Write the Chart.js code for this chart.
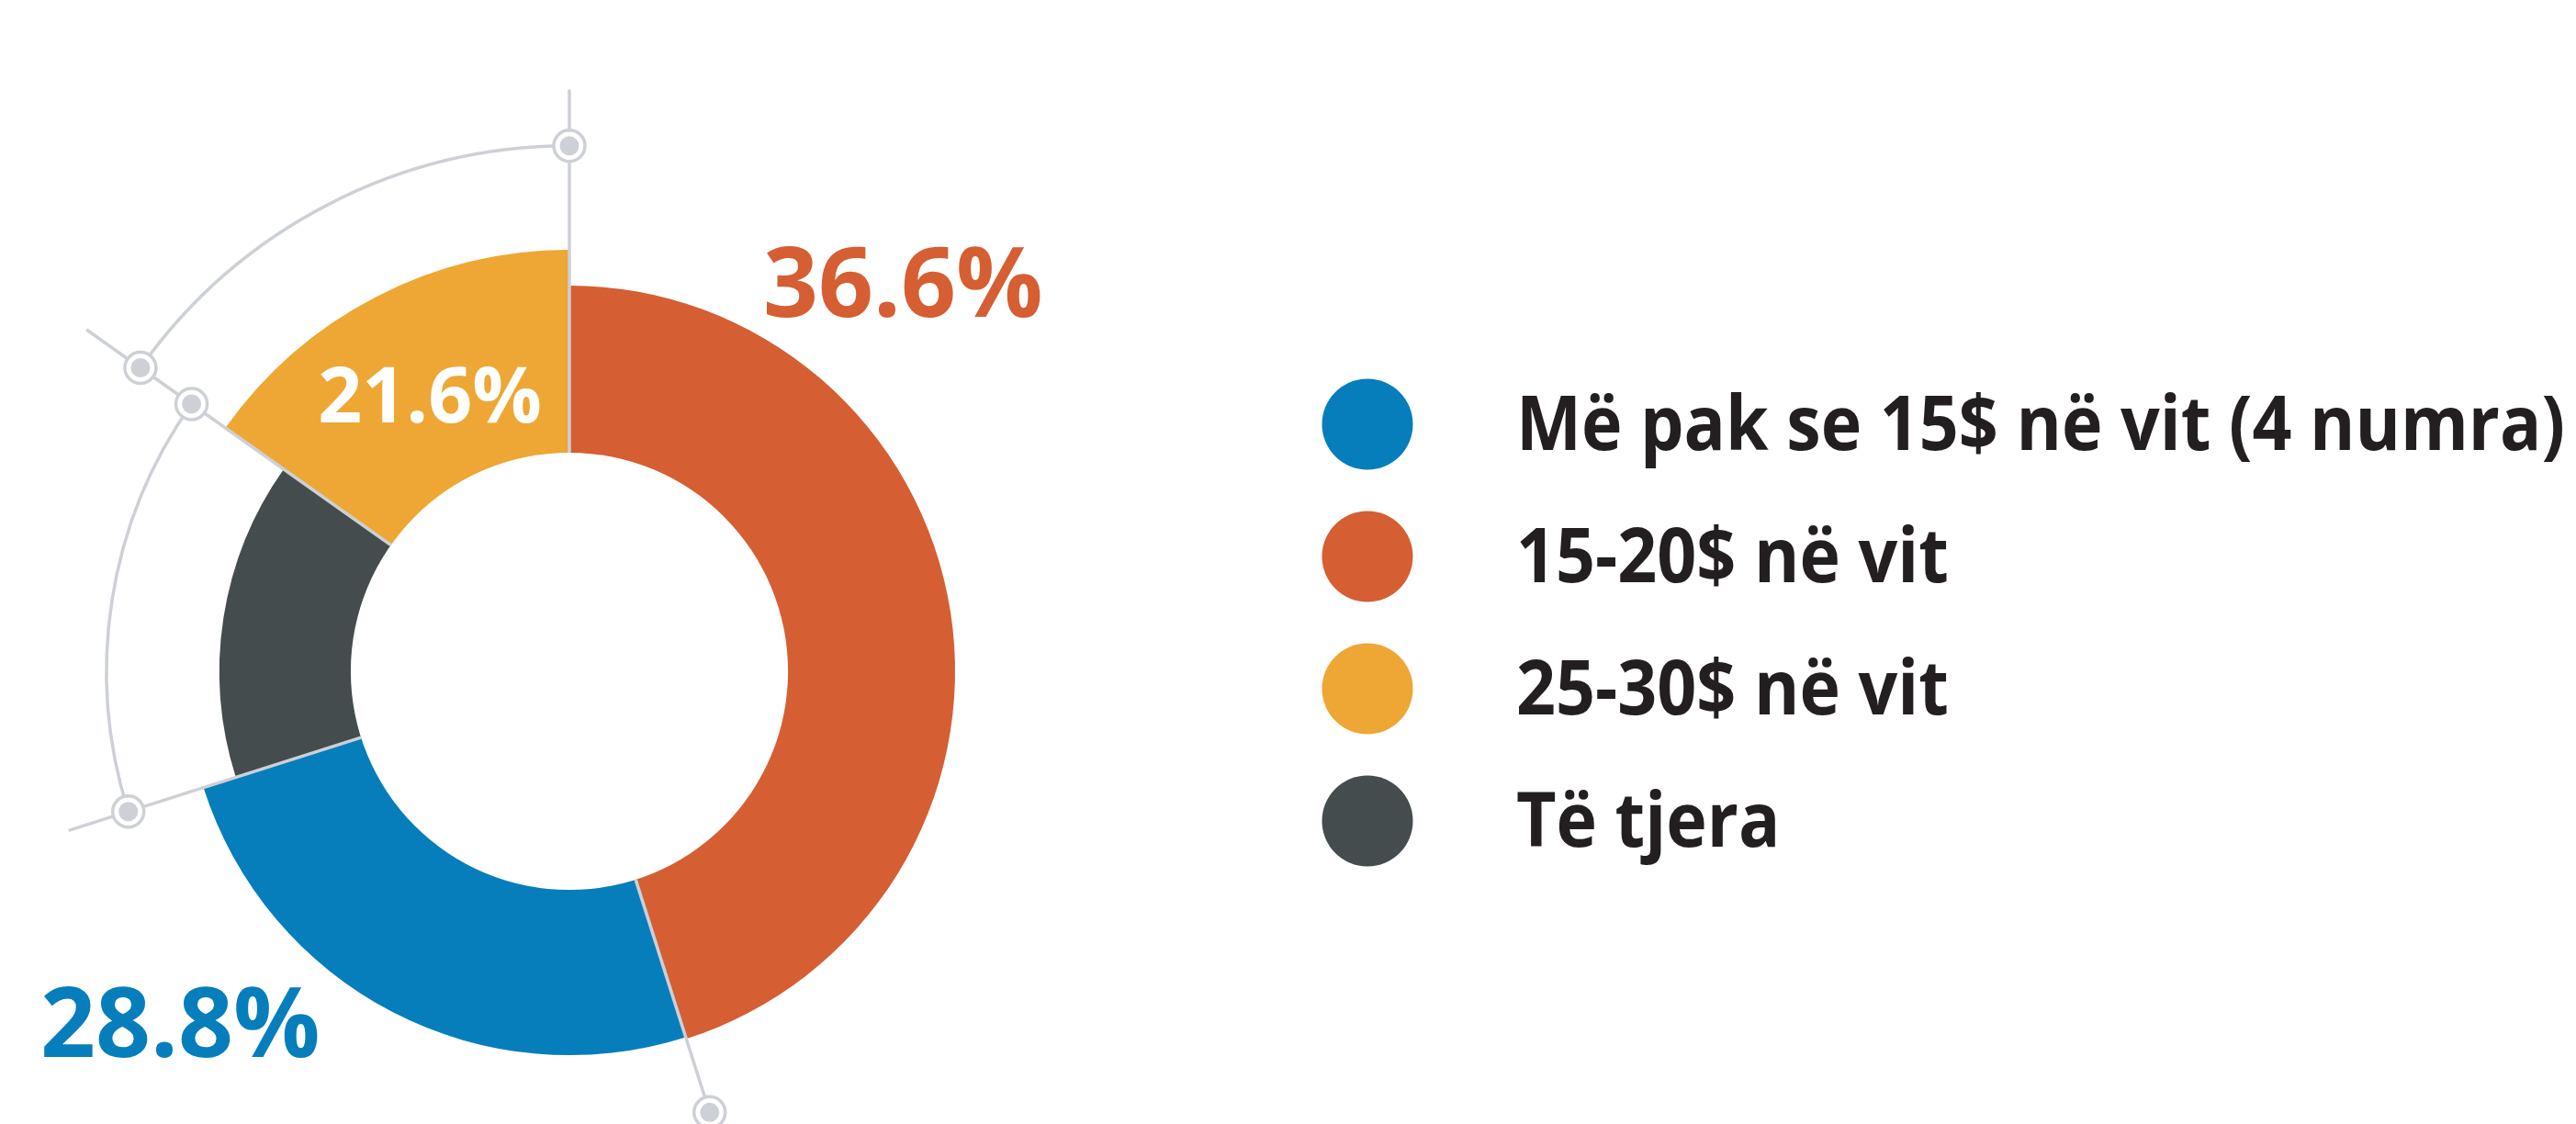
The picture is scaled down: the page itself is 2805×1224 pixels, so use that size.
<!DOCTYPE html>
<html>
<head>
<meta charset="utf-8">
<script src="https://cdn.jsdelivr.net/npm/chart.js@4.4.1/dist/chart.umd.min.js"></script>
<style>
  html, body { margin: 0; padding: 0; background: #fff; }
</style>
</head>
<body>
<canvas id="chart" width="2805" height="1224"></canvas>
<script>
// segments in ring order, clockwise from the top
const categories = ['15-20$ në vit', 'Më pak se 15$ në vit (4 numra)', 'Të tjera', '25-30$ në vit'];
// share of the ring each segment takes as drawn (%)
const sliceShares = [45.1, 25.0, 14.7, 15.2];
// how far each segment reaches out (radial scale units, 0-100)
const ringReach = [87.5, 87.1, 79.4, 95.6];
// the printed percentages
const printedShares = ['36.6%', '28.8%', '', '21.6%'];
// legend lists them in another order
const legendOrder = [1, 0, 3, 2];
const colors = ['#D65E33', '#067EBC', '#454C4E', '#EEA734'];

const LINE = '#CDD0D6';
const INK = '#231F20';

// hole, spokes, guide arcs and markers, in radial scale units
const HOLE = 49.6;
const INNER_GUIDE = 105;
const OUTER_GUIDE = 119.2;
const SPOKE_END = [132, 118, 119.2, 134.2];

const ringDecor = {
  id: 'ringDecor',
  afterDatasetsDraw(chart) {
    const ctx = chart.ctx;
    const r = chart.scales.r;
    const cx = r.xCenter;
    const cy = r.yCenter;
    const px = (v) => r.getDistanceFromCenterForValue(v);
    const edge = chart.getDatasetMeta(0).data.map((a) => a.startAngle);

    ctx.save();
    // hole
    ctx.fillStyle = '#fff';
    ctx.beginPath();
    ctx.arc(cx, cy, px(HOLE), 0, Math.PI * 2);
    ctx.fill();

    ctx.strokeStyle = LINE;
    ctx.lineWidth = 3.5;
    // spokes between the segments
    edge.forEach((ang, i) => {
      ctx.beginPath();
      ctx.moveTo(cx + px(HOLE) * Math.cos(ang), cy + px(HOLE) * Math.sin(ang));
      ctx.lineTo(cx + px(SPOKE_END[i]) * Math.cos(ang), cy + px(SPOKE_END[i]) * Math.sin(ang));
      ctx.stroke();
    });
    // guide arcs
    ctx.beginPath();
    ctx.arc(cx, cy, px(OUTER_GUIDE), edge[3], edge[0] + Math.PI * 2);
    ctx.stroke();
    ctx.beginPath();
    ctx.arc(cx, cy, px(INNER_GUIDE), edge[2], edge[3]);
    ctx.stroke();

    const marker = (ang, v) => {
      const x = cx + px(v) * Math.cos(ang);
      const y = cy + px(v) * Math.sin(ang);
      ctx.fillStyle = '#fff';
      ctx.beginPath();
      ctx.arc(x, y, 18, 0, Math.PI * 2);
      ctx.fill();
      ctx.beginPath();
      ctx.arc(x, y, 17, 0, Math.PI * 2);
      ctx.stroke();
      ctx.fillStyle = LINE;
      ctx.beginPath();
      ctx.arc(x, y, 10.5, 0, Math.PI * 2);
      ctx.fill();
    };
    marker(edge[0], OUTER_GUIDE);
    marker(edge[3], OUTER_GUIDE);
    marker(edge[3], INNER_GUIDE);
    marker(edge[2], INNER_GUIDE);
    marker(edge[1], INNER_GUIDE);

    // printed percentages
    ctx.textBaseline = 'alphabetic';
    ctx.font = '700 105px "Open Sans"';
    ctx.fillStyle = colors[0];
    ctx.textAlign = 'left';
    ctx.fillText(printedShares[0], 831, 345);
    ctx.fillStyle = colors[1];
    ctx.fillText(printedShares[1], 44, 1151);
    ctx.font = '700 84px "Open Sans"';
    ctx.fillStyle = '#fff';
    ctx.textAlign = 'center';
    ctx.fillText(printedShares[3], 468, 460);

    // legend (type is narrower in the original, so squeeze it to the same width)
    ctx.font = '700 82px "Open Sans"';
    ctx.textAlign = 'left';
    const squeeze = 1142 / ctx.measureText(categories[1]).width;
    legendOrder.forEach((idx, row) => {
      const y = 462 + row * 144;
      ctx.fillStyle = colors[idx];
      ctx.beginPath();
      ctx.arc(1489, y, 49.5, 0, Math.PI * 2);
      ctx.fill();
      ctx.save();
      ctx.translate(1651, y + 28);
      ctx.scale(squeeze, 1);
      ctx.fillStyle = INK;
      ctx.fillText(categories[idx], 0, 0);
      ctx.restore();
    });
    ctx.restore();
  },
};

new Chart(document.getElementById('chart'), {
  type: 'polarArea',
  data: {
    labels: categories,
    datasets: [
      {
        data: ringReach,
        angle: sliceShares.map((s) => s * 3.6),
        backgroundColor: colors,
        borderWidth: 0,
        clip: false,
      },
    ],
  },
  options: {
    responsive: false,
    animation: false,
    events: [],
    layout: { padding: { left: 140, top: 251, right: 1705, bottom: 13 } },
    plugins: {
      legend: { display: false },
      tooltip: { enabled: false },
    },
    scales: {
      r: {
        display: false,
        min: 0,
        max: 100,
        startAngle: 0,
        ticks: { display: false },
      },
    },
  },
  plugins: [ringDecor],
});
</script>
</body>
</html>
